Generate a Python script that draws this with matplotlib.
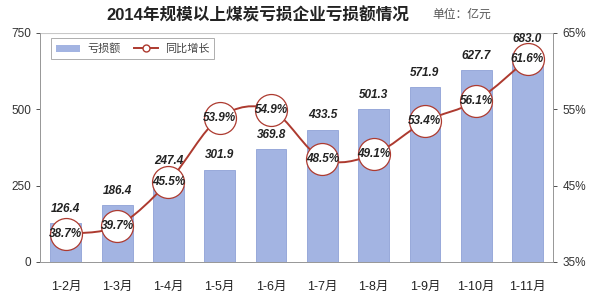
import numpy as np
import matplotlib.pyplot as plt
from matplotlib.path import Path
from matplotlib.patches import PathPatch, Patch
from matplotlib.lines import Line2D

plt.rcParams['font.family'] = ['Liberation Sans', 'Noto Sans CJK SC', 'DejaVu Sans']

months = ['1-2月', '1-3月', '1-4月', '1-5月', '1-6月', '1-7月', '1-8月', '1-9月', '1-10月', '1-11月']
loss = [126.4, 186.4, 247.4, 301.9, 369.8, 433.5, 501.3, 571.9, 627.7, 683.0]
growth = [38.7, 39.7, 45.5, 53.9, 54.9, 48.5, 49.1, 53.4, 56.1, 61.6]

bar_color = '#a3b4e2'
line_color = '#ad3a2f'

fig = plt.figure(figsize=(6, 2.99), dpi=100)
ax1 = fig.add_axes([0.067, 0.124, 0.855, 0.766])
ax2 = ax1.twinx()

x = np.arange(len(months))
ax1.bar(x, loss, width=0.6, color=bar_color, edgecolor='#8fa2d6', linewidth=0.6, zorder=2)
ax1.set_xlim(-0.5, len(months) - 0.5)
ax1.set_ylim(0, 750)
ax1.set_yticks([0, 250, 500, 750])
ax1.axhline(750, color='#c8c8c8', lw=0.8, zorder=1)
ax1.set_xticks(x)
ax1.set_xticklabels(months, fontsize=9, color='#222222')

ax2.set_ylim(35, 65)
ax2.set_yticks([35, 45, 55, 65])
ax2.set_yticklabels([f'{v}%' for v in [35, 45, 55, 65]])

for a in (ax1, ax2):
    a.tick_params(axis='y', labelsize=8.5, colors='#333333', length=3, width=0.6)
    for s in a.spines.values():
        s.set_color('#999999')
        s.set_linewidth(0.7)
    a.spines['top'].set_visible(False)
ax1.tick_params(axis='x', length=0, pad=14)

# smooth line (Catmull-Rom -> cubic bezier)
pts = np.column_stack([x, growth]).astype(float)
verts = [pts[0]]
codes = [Path.MOVETO]
for i in range(len(pts) - 1):
    p0 = pts[max(i - 1, 0)]
    p1 = pts[i]
    p2 = pts[i + 1]
    p3 = pts[min(i + 2, len(pts) - 1)]
    verts += [p1 + (p2 - p0) / 6, p2 - (p3 - p1) / 6, p2]
    codes += [Path.CURVE4] * 3
ax2.add_patch(PathPatch(Path(verts, codes), fill=False, edgecolor=line_color, lw=1.4, zorder=3))
ax2.plot(x, growth, 'o', ms=23, mfc='white', mec=line_color, mew=0.9, zorder=4)

for xi, g in zip(x, growth):
    ax2.text(xi, g, f'{g}%', ha='center', va='center', fontsize=8.5,
             fontweight='bold', style='italic', color='#222222', zorder=5)
# label offsets in points (1-4月 label sits higher, over its circle)
offsets = [6, 6, 14, 6, 6, 6, 6, 6, 6, 6]
for xi, v, off in zip(x, loss, offsets):
    ax2.annotate(f'{v:.1f}', (xi, v), xycoords=ax1.transData, xytext=(0, off),
                 textcoords='offset points', ha='center', va='bottom',
                 fontsize=8.5, fontweight='bold', style='italic', color='#222222', zorder=5)

# legend
handles = [Patch(facecolor=bar_color, edgecolor='none'),
           Line2D([], [], color=line_color, lw=1.4, marker='o', ms=5, mfc='white', mec=line_color)]
leg = ax2.legend(handles, ['亏损额', '同比增长'], loc='upper left', bbox_to_anchor=(0.01, 1.0),
                 ncol=2, frameon=True, fancybox=False, fontsize=8, handlelength=2.2,
                 handleheight=0.6, handletextpad=0.6, columnspacing=1.2, borderpad=0.45)
leg.get_frame().set_edgecolor('#999999')
leg.get_frame().set_linewidth(0.7)
for t in leg.get_texts():
    t.set_color('#444444')

fig.text(0.43, 0.95, '2014年规模以上煤炭亏损企业亏损额情况', ha='center', va='center',
         fontsize=12, fontweight='bold', color='#222222')
fig.text(0.77, 0.95, '单位：亿元', ha='center', va='center', fontsize=8.5, color='#555555')

fig.savefig('out.png', dpi=100)
